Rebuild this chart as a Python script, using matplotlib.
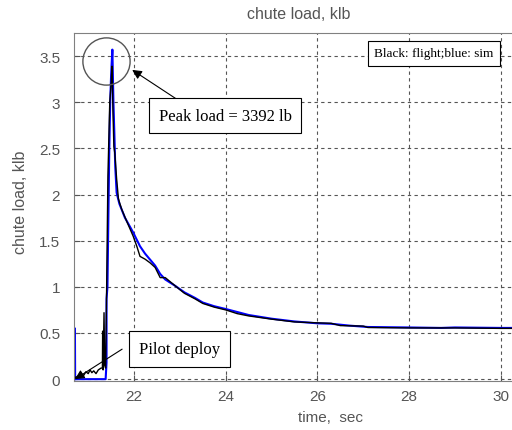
import matplotlib
matplotlib.use("Agg")
import matplotlib.pyplot as plt

# flight data (black)
flight_t = [20.69, 20.72, 20.78, 20.85, 20.90, 20.95, 21.00, 21.04, 21.08, 21.12,
            21.17, 21.22, 21.28, 21.31, 21.315, 21.325, 21.345, 21.36, 21.38, 21.40,
            21.43, 21.47, 21.50, 21.52, 21.54, 21.56, 21.58, 21.62, 21.66, 21.73,
            21.84, 21.98, 22.06, 22.13, 22.24, 22.35, 22.46, 22.57, 22.68, 22.90,
            23.10, 23.33, 23.50, 23.75, 24.00, 24.25, 24.50, 25.00, 25.50, 26.00,
            26.30, 26.50, 27.00, 27.10, 28.00, 29.00, 30.00, 30.42]
flight_load = [0.00, 0.02, 0.03, 0.06, 0.04, 0.08, 0.06, 0.10, 0.07, 0.09,
               0.06, 0.10, 0.12, 0.12, 0.52, 0.10, 0.72, 0.15, 0.12, 0.90,
               2.20, 3.00, 3.20, 3.39, 2.90, 2.52, 2.45, 2.17, 1.95, 1.84,
               1.71, 1.55, 1.44, 1.33, 1.30, 1.26, 1.21, 1.10, 1.10, 1.01,
               0.93, 0.87, 0.82, 0.78, 0.75, 0.71, 0.685, 0.65, 0.62, 0.61,
               0.605, 0.58, 0.575, 0.56, 0.555, 0.555, 0.55, 0.55]

# simulation (blue)
sim_t = [20.705, 20.71, 20.715, 21.38, 21.40, 21.40, 21.42, 21.44, 21.46, 21.48,
         21.50, 21.527, 21.55, 21.57, 21.59, 21.62, 21.68, 21.80, 21.98, 22.13,
         22.24, 22.46, 22.57, 22.68, 22.90, 23.10, 23.33, 23.50, 23.75, 24.00,
         24.50, 25.00, 25.50, 26.00, 26.30, 26.70, 27.10, 28.00, 28.70, 29.00,
         30.00, 30.42]
sim_load = [0.00, 0.55, 0.00, 0.00, 0.18, 0.87, 1.00, 1.76, 2.50, 3.00,
            3.30, 3.57, 3.00, 2.67, 2.30, 2.02, 1.90, 1.75, 1.59, 1.44,
            1.36, 1.23, 1.14, 1.08, 1.01, 0.94, 0.88, 0.83, 0.79, 0.76,
            0.695, 0.655, 0.625, 0.605, 0.60, 0.58, 0.565, 0.56, 0.555, 0.56,
            0.555, 0.555]

xticks = [22, 24, 26, 28, 30]
yticks = [0, 0.5, 1, 1.5, 2, 2.5, 3, 3.5]
ytick_labels = ['0', '0.5', '1', '1.5', '2', '2.5', '3', '3.5']

grey = '#555555'
plt.rcParams['font.family'] = ['Liberation Sans', 'DejaVu Sans']

fig = plt.figure(figsize=(5.12, 4.31), dpi=100)
ax = fig.add_axes([74/512, 49/431, 446/512, 348/431])

ax.plot(sim_t, sim_load, color='#0000ff', lw=1.5)
ax.plot(flight_t, flight_load, color='black', lw=1.0)

ax.set_xlim(20.69, 30.42)
ax.set_ylim(-0.02, 3.75)
ax.set_xticks(xticks)
ax.set_yticks(yticks)
ax.set_yticklabels(ytick_labels)
ax.tick_params(direction='in', colors=grey, labelsize=11, length=4)
ax.tick_params(axis='y', pad=10)
ax.tick_params(axis='x', pad=6)
for s in ax.spines.values():
    s.set_color('#808080')
ax.grid(True, color=grey, ls=(0, (3, 3)), lw=0.8)

fig.text(0.583, 0.966, 'chute load, klb', ha='center', va='center', color=grey, fontsize=11.5)
fig.text(0.646, 0.03, 'time,  sec', ha='center', va='center', color=grey, fontsize=11)
fig.text(0.04, 0.53, 'chute load, klb', ha='center', va='center', color=grey,
         fontsize=11.5, rotation=90)

serif = ['Liberation Serif', 'DejaVu Serif']

# circle round the peak
ax.plot([21.395], [3.45], marker='o', ms=34, mfc='none', mec='#555555', mew=1.0)

ax.annotate('', xy=(21.96, 3.35), xytext=(22.94, 3.03),
            arrowprops=dict(arrowstyle='-|>', color='black', lw=0.8,
                            mutation_scale=14, shrinkA=0, shrinkB=0))
ax.text(23.985, 2.855, 'Peak load = 3392 lb', ha='center', va='center',
        family=serif, fontsize=12,
        bbox=dict(boxstyle='square,pad=0.55', fc='white', ec='black', lw=0.8))

ax.annotate('', xy=(20.71, 0.0), xytext=(21.74, 0.325),
            arrowprops=dict(arrowstyle='-|>', color='black', lw=0.8,
                            mutation_scale=14, shrinkA=0, shrinkB=0))
ax.text(22.99, 0.325, 'Pilot deploy', ha='center', va='center',
        family=serif, fontsize=12,
        bbox=dict(boxstyle='square,pad=0.6', fc='white', ec='black', lw=0.8))

ax.text(28.54, 3.53, 'Black: flight;blue: sim', ha='center', va='center',
        family=serif, fontsize=9.5,
        bbox=dict(boxstyle='square,pad=0.5', fc='white', ec='black', lw=0.8))

fig.savefig('out.png', dpi=100)
